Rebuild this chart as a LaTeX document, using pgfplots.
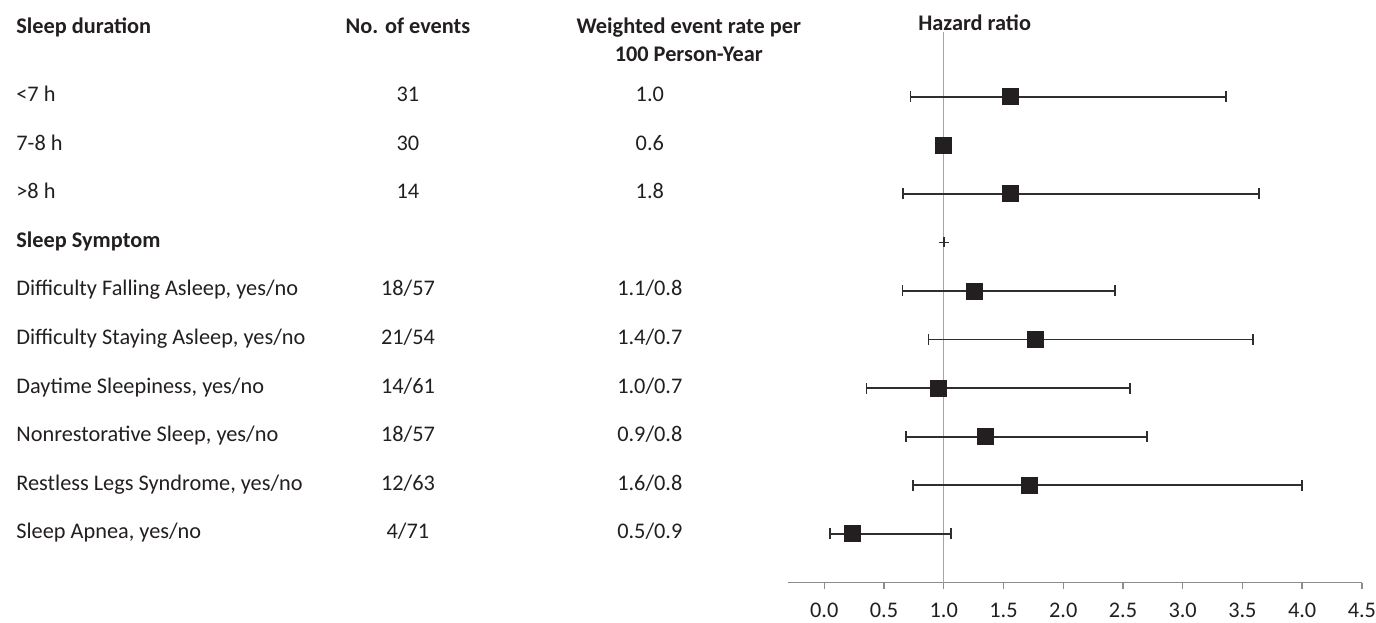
\documentclass[border=0pt]{standalone}
\usepackage{fontspec}
\setmainfont{Carlito}
\usepackage{pgfplots}
\usepackage{pgfplotstable}
\pgfplotsset{compat=1.18}
\definecolor{txt}{HTML}{231F20}
\definecolor{sq}{HTML}{231F20}
\definecolor{wh}{HTML}{2E2E2E}
\definecolor{vline}{HTML}{A6A6A6}
\definecolor{axc}{HTML}{8C8C8C}

\pgfplotstableread{
row hr lo hi
-1 1.561 0.721 3.360
-3 1.561 0.658 3.636
-5 1.259 0.654 2.433
-6 1.770 0.872 3.586
-7 0.956 0.353 2.562
-8 1.351 0.682 2.701
-9 1.720 0.741 3.996
-10 0.238 0.050 1.061
}\hrdata

\pgfplotstableread{
row hr
-2 1.0
}\refdata

\pgfplotstableread{
row hr
-4 1.0
}\crossdata

\begin{document}
\begin{tikzpicture}[
  lab/.style={font=\fontsize{11.2}{13}\selectfont, text=txt, inner sep=0pt, anchor=base west},
  num/.style={font=\fontsize{11.2}{13}\selectfont, text=txt, inner sep=0pt, anchor=base},
  hdr/.style={font=\fontsize{11.2}{13}\selectfont\bfseries, text=txt, inner sep=0pt, anchor=base}
]
\begin{axis}[
  scale only axis,
  width=287.1bp, height=275.35bp,
  xmin=-0.305, xmax=4.5,
  ymin=-11.008, ymax=0.325,
  clip=false,
  axis x line=bottom,
  axis y line=none,
  axis line style={-, draw=axc, line width=0.65bp},
  xtick={0,0.5,1,1.5,2,2.5,3,3.5,4,4.5},
  tick align=outside,
  major tick length=3bp,
  tick style={draw=axc, line width=0.65bp},
  xticklabel style={font=\fontsize{11.2}{13}\selectfont, text=txt, inner sep=0pt, yshift=-7bp},
  /pgf/number format/.cd, fixed, fixed zerofill, precision=1, assume math mode=true,
]
% reference line at HR = 1
\addplot[draw=vline, line width=0.75bp] coordinates {(1,0.325) (1,-11.008)};

% hazard ratios with confidence intervals
\addplot[only marks, mark=square*, mark size=4bp, color=sq,
  error bars/.cd, x dir=both, x explicit,
  error mark=|,
  error bar style={draw=wh, line width=0.9bp},
  error mark options={draw=wh, line width=0.9bp, mark size=2.75bp}]
  table[x=hr, y=row,
        x error plus expr=\thisrow{hi}-\thisrow{hr},
        x error minus expr=\thisrow{hr}-\thisrow{lo}] {\hrdata};
\addplot[only marks, mark=square*, mark size=4bp, color=sq] table[x=hr, y=row] {\refdata};
\addplot[only marks, mark=+, mark size=2.5bp, color=wh, line width=0.9bp] table[x=hr, y=row] {\crossdata};

% headers
\node[hdr, anchor=base west] at (axis cs:-6.766,0.305) {Sleep duration};
\node[hdr] at (axis cs:-3.485,0.305) {No. of events};
\node[hdr] at (axis cs:-1.134,0.305) {Weighted event rate per};
\node[hdr] at (axis cs:-1.134,-0.286) {100 Person-Year};
\node[hdr] at (axis cs:1.259,0.362) {Hazard ratio};

% row labels
\node[lab, yshift=-2.5bp] at (axis cs:-6.766,-1) {<7 h};
\node[lab, yshift=-2.5bp] at (axis cs:-6.766,-2) {7-8 h};
\node[lab, yshift=-2.5bp] at (axis cs:-6.766,-3) {>8 h};
\node[lab, yshift=-2.5bp, font=\fontsize{11.2}{13}\selectfont\bfseries] at (axis cs:-6.766,-4) {Sleep Symptom};
\node[lab, yshift=-2.5bp] at (axis cs:-6.766,-5) {Difficulty Falling Asleep, yes/no};
\node[lab, yshift=-2.5bp] at (axis cs:-6.766,-6) {Difficulty Staying Asleep, yes/no};
\node[lab, yshift=-2.5bp] at (axis cs:-6.766,-7) {Daytime Sleepiness, yes/no};
\node[lab, yshift=-2.5bp] at (axis cs:-6.766,-8) {Nonrestorative Sleep, yes/no};
\node[lab, yshift=-2.5bp] at (axis cs:-6.766,-9) {Restless Legs Syndrome, yes/no};
\node[lab, yshift=-2.5bp] at (axis cs:-6.766,-10) {Sleep Apnea, yes/no};

% number of events
\node[num, yshift=-2.5bp] at (axis cs:-3.485,-1) {31};
\node[num, yshift=-2.5bp] at (axis cs:-3.485,-2) {30};
\node[num, yshift=-2.5bp] at (axis cs:-3.485,-3) {14};
\node[num, yshift=-2.5bp] at (axis cs:-3.485,-5) {18/57};
\node[num, yshift=-2.5bp] at (axis cs:-3.485,-6) {21/54};
\node[num, yshift=-2.5bp] at (axis cs:-3.485,-7) {14/61};
\node[num, yshift=-2.5bp] at (axis cs:-3.485,-8) {18/57};
\node[num, yshift=-2.5bp] at (axis cs:-3.485,-9) {12/63};
\node[num, yshift=-2.5bp] at (axis cs:-3.485,-10) {4/71};

% weighted event rate
\node[num, yshift=-2.5bp] at (axis cs:-1.460,-1) {1.0};
\node[num, yshift=-2.5bp] at (axis cs:-1.460,-2) {0.6};
\node[num, yshift=-2.5bp] at (axis cs:-1.460,-3) {1.8};
\node[num, yshift=-2.5bp] at (axis cs:-1.460,-5) {1.1/0.8};
\node[num, yshift=-2.5bp] at (axis cs:-1.460,-6) {1.4/0.7};
\node[num, yshift=-2.5bp] at (axis cs:-1.460,-7) {1.0/0.7};
\node[num, yshift=-2.5bp] at (axis cs:-1.460,-8) {0.9/0.8};
\node[num, yshift=-2.5bp] at (axis cs:-1.460,-9) {1.6/0.8};
\node[num, yshift=-2.5bp] at (axis cs:-1.460,-10) {0.5/0.9};

% picture extent
\path (axis cs:-6.900,0.990) rectangle (axis cs:4.615,-11.83);
\end{axis}
\end{tikzpicture}
\end{document}
